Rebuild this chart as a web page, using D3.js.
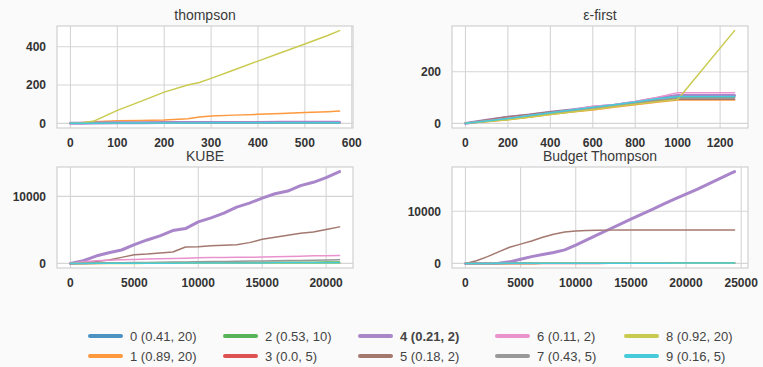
<!DOCTYPE html>
<html><head><meta charset="utf-8">
<script src="https://cdn.jsdelivr.net/npm/d3@7"></script>
<style>
html,body{margin:0;padding:0;background:#fafafa;}
svg{display:block;font-family:"Liberation Sans",Arial,sans-serif;}
</style></head>
<body>
<svg id="chart" width="763" height="367"></svg>
<script>
// ---- data ----
const seriesNames = ["0 (0.41, 20)","1 (0.89, 20)","2 (0.53, 10)","3 (0.0, 5)","4 (0.21, 2)","5 (0.18, 2)","6 (0.11, 2)","7 (0.43, 5)","8 (0.92, 20)","9 (0.16, 5)"];
const seriesColors = ["#1f77b4","#ff7f0e","#2ca02c","#d62728","#9467bd","#8c564b","#e377c2","#7f7f7f","#bcbd22","#17becf"];
const highlightSeries = 4;

const panelTitles = ["thompson","\u03b5-first","KUBE","Budget Thompson"];

const thompsonX = [0,25,50,100,150,200,250,275,300,350,400,450,500,550,574];
const thompsonY = [
  [0,1,1,2,2,2,3,3,3,3,3,3,3,3,3],
  [0,5,9,14,15,17,24,33,38,43,47,51,57,61,64],
  [0,1,1,1,1,2,2,2,2,2,2,2,2,2,2],
  [0,0,1,1,1,1,1,1,1,1,1,1,1,1,1],
  [0,1,2,3,3,4,4,5,5,5,5,6,6,6,6],
  [0,1,1,2,2,2,2,3,3,3,3,3,3,3,3],
  [0,1,1,1,2,2,2,2,2,2,2,2,2,2,2],
  [0,0,1,1,1,1,1,1,1,1,1,1,1,1,1],
  [0,2,12,68,115,163,200,213,235,280,325,370,414,460,484],
  [0,1,1,2,2,2,2,2,3,3,3,3,3,3,3]
];
const thompsonXTicks = [0,100,200,300,400,500,600];
const thompsonYTicks = [0,200,400];

const epsX = [0,100,200,300,400,500,600,700,800,900,1000,1268];
const epsY = [
  [0,8,18,28,40,50,60,70,82,92,103,103],
  [0,6,14,24,34,44,52,62,72,82,90,90],
  [0,8,16,26,36,46,56,66,76,88,100,100],
  [0,10,20,30,40,50,58,66,76,86,93,93],
  [0,12,24,32,43,52,62,70,82,96,108,108],
  [0,13,26,34,44,53,60,68,80,88,93,93],
  [0,10,20,30,40,52,66,72,85,100,119,119],
  [0,9,18,28,38,48,58,68,78,90,98,98],
  [0,7,14,24,34,44,54,64,74,84,92,359],
  [0,9,19,30,41,52,62,72,83,95,104,104]
];
const epsXTicks = [0,200,400,600,800,1000,1200];
const epsYTicks = [0,200];

const kubeX = [0,1000,2000,3000,4000,5000,6000,7000,8000,9000,10000,11000,12000,13000,14000,15000,16000,17000,18000,19000,20000,21050];
const kubeY = [
  [0,5,10,15,20,25,30,35,40,45,50,55,60,65,70,75,80,85,90,95,100,105],
  [0,3,6,9,12,15,18,21,24,27,30,33,36,39,42,45,48,51,54,57,60,63],
  [0,10,20,30,40,50,60,70,80,90,100,110,120,130,140,150,160,170,180,190,200,210],
  [0,2,4,6,8,10,12,14,16,18,20,22,24,26,28,30,32,34,36,38,40,42],
  [0,400,1100,1600,2000,2800,3500,4100,4900,5200,6200,6800,7500,8400,9000,9750,10400,10800,11600,12100,12800,13700],
  [0,150,300,500,900,1300,1400,1550,1700,2450,2500,2650,2720,2800,3100,3600,3900,4200,4500,4700,5050,5450],
  [0,250,400,480,550,600,650,700,740,780,840,870,890,910,925,940,980,1020,1080,1130,1160,1190],
  [0,25,50,75,100,125,150,175,200,225,250,275,300,325,350,375,400,425,450,475,500,545],
  [0,1,2,3,4,5,6,7,8,9,10,11,12,13,14,15,16,17,18,19,20,21],
  [0,5,10,15,20,25,30,35,40,45,50,55,60,65,70,75,80,85,90,95,100,105]
];
const kubeXTicks = [0,5000,10000,15000,20000];
const kubeYTicks = [0,10000];

const budgetX = [0,1000,2000,3000,4000,5000,6000,7000,8000,9000,10000,11000,12000,13000,14000,15000,16000,17000,18000,19000,20000,21000,22000,23000,24000,24400];
const budgetY = [
  [0,1,2,3,4,5,6,7,8,9,10,11,12,13,14,15,16,17,18,19,20,21,22,23,24,24],
  [0,1,2,3,4,5,6,7,8,9,10,11,12,13,14,15,16,17,18,19,20,21,22,23,24,24],
  [0,2,4,6,8,10,12,14,16,18,20,22,24,26,28,30,32,34,36,38,40,42,44,46,48,49],
  [0,1,1,2,2,3,3,4,4,5,5,6,6,7,7,8,8,9,9,10,10,11,11,12,12,12],
  [0,0,0,50,300,800,1300,1700,2100,2600,3500,4500,5500,6500,7500,8500,9450,10400,11400,12350,13300,14200,15200,16200,17200,17600],
  [0,500,1300,2200,3100,3700,4300,5000,5600,6000,6200,6300,6350,6380,6390,6400,6400,6400,6400,6400,6400,6400,6400,6400,6400,6400],
  [0,1,2,3,4,5,6,7,8,9,10,11,12,13,14,15,16,17,18,19,20,21,22,23,24,24],
  [0,2,4,6,8,10,12,14,16,18,20,22,24,26,28,30,32,34,36,38,40,42,44,46,48,49],
  [0,1,2,3,4,5,6,7,8,9,10,11,12,13,14,15,16,17,18,19,20,21,22,23,24,24],
  [0,3,6,9,12,15,18,21,24,27,30,33,36,39,42,45,48,51,54,57,60,63,66,69,72,73]
];
const budgetXTicks = [0,5000,10000,15000,20000,25000];
const budgetYTicks = [0,10000];

// ---- drawing ----
const svg = d3.select("#chart");
const alphaMix = c => { const r = d3.rgb(c); const a = 0.8;
  return d3.rgb(r.r*a+255*(1-a), r.g*a+255*(1-a), r.b*a+255*(1-a)).formatHex(); };
const colors = seriesColors.map(alphaMix);

const panels = [
  {title: panelTitles[0], xs: thompsonX, ys: thompsonY, xt: thompsonXTicks, yt: thompsonYTicks, box:[57,353,26,128]},
  {title: panelTitles[1], xs: epsX, ys: epsY, xt: epsXTicks, yt: epsYTicks, box:[452,748,26,128]},
  {title: panelTitles[2], xs: kubeX, ys: kubeY, xt: kubeXTicks, yt: kubeYTicks, box:[57,353,167,268]},
  {title: panelTitles[3], xs: budgetX, ys: budgetY, xt: budgetXTicks, yt: budgetYTicks, box:[452,748,167,268]}
];

panels.forEach(p => {
  const [L,R,T,B] = p.box;
  const xmin = d3.min(p.xs), xmax = d3.max(p.xs);
  const ymin = d3.min(p.ys.flat()), ymax = d3.max(p.ys.flat());
  const mx = (xmax-xmin)*0.05, my = (ymax-ymin)*0.05;
  const x = d3.scaleLinear().domain([xmin-mx, xmax+mx]).range([L,R]);
  const y = d3.scaleLinear().domain([ymin-my, ymax+my]).range([B,T]);
  const g = svg.append("g");
  g.append("rect").attr("x",L).attr("y",T).attr("width",R-L).attr("height",B-T).attr("fill","#ffffff");
  // grid
  g.selectAll(".gx").data(p.xt).join("line")
    .attr("x1",d=>x(d)).attr("x2",d=>x(d)).attr("y1",T).attr("y2",B)
    .attr("stroke","#d5d5d5").attr("stroke-width",1.1);
  g.selectAll(".gy").data(p.yt).join("line")
    .attr("x1",L).attr("x2",R).attr("y1",d=>y(d)).attr("y2",d=>y(d))
    .attr("stroke","#d5d5d5").attr("stroke-width",1.1);
  // spines
  g.append("rect").attr("x",L).attr("y",T).attr("width",R-L).attr("height",B-T)
    .attr("fill","none").attr("stroke","#d0d0d0").attr("stroke-width",1.2);
  // lines
  const clipId = "clip"+L+"_"+T;
  svg.append("clipPath").attr("id",clipId).append("rect").attr("x",L).attr("y",T).attr("width",R-L).attr("height",B-T);
  const lg = g.append("g").attr("clip-path","url(#"+clipId+")");
  const line = d3.line().x((d,i)=>x(p.xs[i])).y(d=>y(d));
  p.ys.forEach((ser,k) => {
    lg.append("path").attr("d", line(ser)).attr("fill","none")
      .attr("stroke", colors[k]).attr("stroke-width", k===highlightSeries ? 3 : 1.5)
      .attr("stroke-linejoin","round").attr("stroke-linecap","round");
  });
  // ticks labels
  g.selectAll(".tx").data(p.xt).join("text")
    .attr("x",d=>x(d)).attr("y",B+18.5).attr("text-anchor","middle")
    .attr("font-size",12).attr("font-weight","bold").attr("fill","#333")
    .text(d=>d);
  g.selectAll(".ty").data(p.yt).join("text")
    .attr("x",L-11).attr("y",d=>y(d)).attr("dy","0.36em").attr("text-anchor","end")
    .attr("font-size",12).attr("font-weight","bold").attr("fill","#333")
    .text(d=>d);
  g.append("text").attr("x",(L+R)/2).attr("y",T-6.5).attr("text-anchor","middle")
    .attr("font-size",14).attr("fill","#3a3a3a").text(p.title);
});

// legend
const legCols = [90,225,360,497,626];
const legRows = [336,356];
seriesNames.forEach((name,k) => {
  const cx = legCols[Math.floor(k/2)], cy = legRows[k%2];
  svg.append("line").attr("x1",cx).attr("x2",cx+31).attr("y1",cy).attr("y2",cy)
    .attr("stroke",colors[k]).attr("stroke-width",4).attr("stroke-linecap","round");
  svg.append("text").attr("x",cx+40).attr("y",cy).attr("dy","0.36em")
    .attr("font-size",13).attr("fill","#444")
    .attr("font-weight", k===highlightSeries ? "bold" : "normal").text(name);
});
</script>
</body></html>
